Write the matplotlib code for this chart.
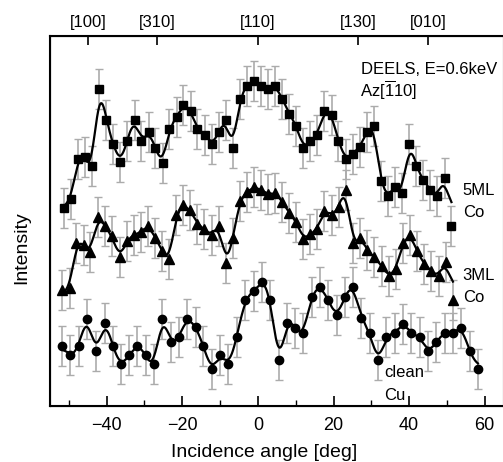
import numpy as np
import matplotlib
matplotlib.use("Agg")
import matplotlib.pyplot as plt

plt.rcParams['font.family'] = ['Liberation Sans', 'DejaVu Sans']
plt.rcParams['mathtext.fontset'] = 'custom'
plt.rcParams['mathtext.rm'] = 'Liberation Sans'

# ---------------- data ----------------
angles_5ml = [-51.3, -49.5, -47.6, -45.8, -43.9, -42.0, -40.1, -38.3, -36.4, -34.6,
              -32.6, -30.8, -28.9, -27.1, -25.2, -23.4, -21.5, -19.7, -17.8, -16.0,
              -14.0, -12.2, -10.3, -8.5, -6.6, -4.8, -2.9, -1.1, 0.8, 2.6,
              4.5, 6.5, 8.3, 10.2, 12.0, 13.9, 15.7, 17.6, 19.5, 21.3,
              23.2, 25.1, 26.9, 28.8, 30.6, 32.5, 34.4, 36.2, 38.1, 40.0,
              41.9, 43.8, 45.6, 47.5, 49.4, 51.2]
int_5ml = [198, 207, 247, 249, 240, 317, 286, 262, 244, 265,
           286, 265, 274, 258, 243, 277, 289, 301, 295, 277,
           271, 262, 274, 286, 258, 307, 320, 325, 320, 317,
           320, 307, 292, 280, 258, 265, 271, 295, 291, 265,
           247, 252, 259, 274, 280, 225, 210, 219, 213, 262,
           240, 226, 216, 210, 228, 180]

angles_3ml = [-51.7, -49.8, -48.0, -46.1, -44.3, -42.3, -40.5, -38.6, -36.6, -34.7,
              -32.7, -31.0, -29.0, -27.1, -25.3, -23.4, -21.6, -19.7, -17.9, -16.0,
              -14.2, -12.2, -10.3, -8.5, -6.6, -4.8, -2.9, -1.1, 0.8, 2.6,
              4.5, 6.5, 8.3, 10.2, 12.0, 13.9, 15.7, 17.6, 19.5, 21.4,
              23.3, 25.1, 27.0, 28.9, 30.8, 32.7, 34.6, 36.5, 38.4, 40.3,
              42.1, 44.0, 45.9, 47.8, 49.7, 51.6]
int_3ml = [116, 118, 163, 161, 154, 189, 180, 170, 149, 165,
           171, 174, 180, 168, 155, 147, 191, 201, 196, 182,
           177, 171, 180, 143, 168, 205, 214, 219, 216, 212,
           213, 204, 193, 184, 167, 172, 177, 195, 191, 199,
           216, 163, 168, 156, 149, 140, 130, 137, 163, 171,
           155, 142, 135, 130, 144, 106]

angles_cu = [-51.7, -49.6, -47.4, -45.1, -42.9, -40.5, -38.4, -36.2, -34.0, -31.9,
             -29.7, -27.5, -25.3, -23.1, -20.9, -18.7, -16.5, -14.4, -12.2, -9.9,
             -7.8, -5.6, -3.3, -1.1, 1.1, 3.3, 5.5, 7.7, 9.9, 12.0,
             14.2, 16.4, 18.6, 20.8, 23.0, 25.2, 27.4, 29.6, 31.7, 34.0,
             36.2, 38.4, 40.6, 42.8, 45.0, 47.2, 49.4, 51.6, 53.8, 56.0,
             58.2]
int_cu = [60, 51, 60, 87, 55, 83, 60, 42, 51, 60,
          51, 42, 87, 64, 69, 87, 79, 60, 37, 51,
          42, 69, 106, 115, 124, 106, 46, 83, 78, 73,
          109, 119, 106, 91, 109, 119, 88, 73, 46, 69,
          73, 82, 73, 69, 55, 64, 73, 73, 78, 55,
          37]

err_5ml = 20
err_3ml = 20
err_cu = 20

top_tick_angles = [-45.0, -26.57, 0.0, 26.57, 45.0]
top_tick_labels = ['[100]', '[310]', '[110]', '[130]', '[010]']
bottom_ticks = [-40, -20, 0, 20, 40, 60]


# ---------------- helpers ----------------
def natural_spline(x, y, xs):
    x = np.asarray(x, float)
    y = np.asarray(y, float)
    n = len(x)
    h = np.diff(x)
    A = np.zeros((n, n))
    b = np.zeros(n)
    A[0, 0] = 1.0
    A[-1, -1] = 1.0
    for i in range(1, n - 1):
        A[i, i - 1] = h[i - 1]
        A[i, i] = 2 * (h[i - 1] + h[i])
        A[i, i + 1] = h[i]
        b[i] = 6 * ((y[i + 1] - y[i]) / h[i] - (y[i] - y[i - 1]) / h[i - 1])
    M = np.linalg.solve(A, b)
    idx = np.clip(np.searchsorted(x, xs) - 1, 0, n - 2)
    x0, x1 = x[idx], x[idx + 1]
    y0, y1 = y[idx], y[idx + 1]
    m0, m1 = M[idx], M[idx + 1]
    hh = x1 - x0
    t1 = x1 - xs
    t0 = xs - x0
    return (m0 * t1 ** 3 / (6 * hh) + m1 * t0 ** 3 / (6 * hh)
            + (y0 / hh - m0 * hh / 6) * t1 + (y1 / hh - m1 * hh / 6) * t0)


def smooth_curve(x, y, sigma=1.0, npts=1500):
    xs = np.linspace(x[0], x[-1], npts)
    ys = natural_spline(x, y, xs)
    dx = xs[1] - xs[0]
    half = int(4 * sigma / dx)
    k = np.exp(-0.5 * ((np.arange(-half, half + 1) * dx) / sigma) ** 2)
    num = np.convolve(ys, k, mode='same')
    den = np.convolve(np.ones_like(ys), k, mode='same')
    return xs, num / den


# ---------------- figure ----------------
fig = plt.figure(figsize=(5.03, 4.62), dpi=100)
ax = fig.add_axes([50 / 503, 56 / 462, 453.6 / 503, 370 / 462])

ecol = '#ababab'
series = [
    (angles_5ml, int_5ml, err_5ml, 's', 5.5),
    (angles_3ml, int_3ml, err_3ml, '^', 6.5),
    (angles_cu, int_cu, err_cu, 'o', 6.0),
]
for xa, ya, e, mk, ms in series:
    ax.errorbar(xa, ya, yerr=e, fmt='none', ecolor=ecol, elinewidth=1.2,
                capsize=2.6, capthick=1.0, zorder=1)
    xs, ys = smooth_curve(xa, ya, sigma=1.0)
    ax.plot(xs, ys, color='black', lw=1.6, zorder=2)
    ax.plot(xa, ya, linestyle='none', marker=mk, ms=ms, color='black', zorder=3)

ax.set_xlim(-55, 65)
ax.set_ylim(0, 370)
ax.set_yticks([])
ax.set_xticks(bottom_ticks)
ax.set_xticks(np.arange(-50, 61, 20), minor=True)
ax.tick_params(axis='x', which='major', direction='in', length=7, width=1.2,
               labelsize=13, pad=8)
ax.tick_params(axis='x', which='minor', direction='in', length=4, width=1.0)
for s in ax.spines.values():
    s.set_linewidth(1.5)

ax2 = ax.twiny()
ax2.set_xlim(ax.get_xlim())
ax2.set_xticks(top_tick_angles)
ax2.set_xticklabels(top_tick_labels)
ax2.tick_params(axis='x', direction='in', length=6.5, width=1.2,
                labelsize=12, pad=4)
ax2.set_yticks([])

fig.text(264 / 503, 1 - 457 / 462, 'Incidence angle [deg]', fontsize=14,
         ha='center', va='baseline')
fig.text(22 / 503, 1 - 248 / 462, 'Intensity', fontsize=14, rotation=90,
         ha='center', va='center')

fs = 12
ax.text(27.4, 332, 'DEELS, E=0.6keV', fontsize=fs, va='baseline')
ax.text(27.1, 309, r'Az[$\overline{\mathrm{1}}$10]', fontsize=fs, va='baseline')
ax.text(54.2, 211, '5ML', fontsize=fs, va='baseline')
ax.text(54.2, 189, 'Co', fontsize=fs, va='baseline')
ax.text(54.2, 126, '3ML', fontsize=fs, va='baseline')
ax.text(54.2, 104, 'Co', fontsize=fs, va='baseline')
ax.text(33.3, 29, 'clean', fontsize=fs, va='baseline')
ax.text(33.3, 6, 'Cu', fontsize=fs, va='baseline')

fig.savefig('out.png', dpi=100)
